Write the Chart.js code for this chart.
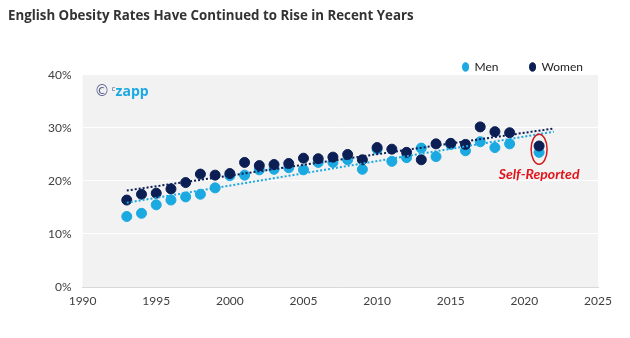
<!DOCTYPE html>
<html>
<head>
<meta charset="utf-8">
<script src="https://cdn.jsdelivr.net/npm/chart.js@4"></script>
<style>
  html, body { margin: 0; padding: 0; background: #fff; }
  #wrap { width: 630px; height: 338px; }
</style>
</head>
<body>
<div id="wrap"><canvas id="chart"></canvas></div>
<script>
// values (percent)
let years = [1993, 1994, 1995, 1996, 1997, 1998, 1999, 2000, 2001, 2002, 2003, 2004, 2005, 2006, 2007,
             2008, 2009, 2010, 2011, 2012, 2013, 2014, 2015, 2016, 2017, 2018, 2019, 2021];
let men =   [13.3, 13.9, 15.5, 16.4, 17.0, 17.5, 18.7, 21.0, 21.1, 22.1, 22.2, 22.5, 22.1, 23.5, 23.5,
             24.0, 22.2, 26.0, 23.7, 24.4, 26.2, 24.6, 26.9, 25.7, 27.4, 26.3, 27.0, 25.4];
let women = [16.4, 17.5, 17.7, 18.5, 19.7, 21.3, 21.1, 21.4, 23.5, 22.9, 23.1, 23.3, 24.3, 24.2, 24.5,
             25.0, 24.0, 26.3, 26.0, 25.4, 24.0, 27.0, 27.1, 26.9, 30.2, 29.3, 29.1, 26.6];
// trend line end points
let trendYears = [1993, 2022];
let menTrend = [15.9, 29.3];
let womenTrend = [18.2, 29.9];
let xTicks = [1990, 1995, 2000, 2005, 2010, 2015, 2020, 2025];
let yTicks = [0, 10, 20, 30, 40];
let selfReportedYear = 2021;

const MEN_COL = '#1ba9e1';
const WOMEN_COL = '#0c1f55';

function pts(xs, ys){
  return xs.map(function(x, i){ return {x: x, y: ys[i]}; });
}

const backdrop = {
  id: 'backdrop',
  afterLayout: function(chart){
    // nudge legend down / right so it sits just above the plot like the original
    let lg = chart.legend;
    if(lg){
      lg.top += 8; lg.bottom += 8;
      lg.left += 16; lg.right += 16;
    }
  },
  beforeDraw: function(chart){
    let ca = chart.chartArea, ctx = chart.ctx;
    ctx.save();
    ctx.fillStyle = '#f2f2f2';
    ctx.fillRect(ca.left, ca.top, ca.right - ca.left, ca.bottom - ca.top);
    ctx.restore();
  },
  afterDraw: function(chart){
    let ca = chart.chartArea, ctx = chart.ctx;
    ctx.save();
    // logo
    ctx.textBaseline = 'middle';
    ctx.fillStyle = '#5b5f8e';
    ctx.font = '15px "DejaVu Sans"';
    ctx.fillText('\u00A9', ca.left + 12, ca.top + 17);
    ctx.font = '8px "Open Sans"';
    ctx.fillText('c', ca.left + 29, ca.top + 14);
    ctx.font = 'bold 14px "Open Sans"';
    ctx.fillStyle = '#1ba9e1';
    ctx.fillText('zapp', ca.left + 33, ca.top + 17);

    // self-reported marker
    let xs = chart.scales.x, ys = chart.scales.y;
    let i = years.indexOf(selfReportedYear);
    let cx = xs.getPixelForValue(selfReportedYear);
    let cy = (ys.getPixelForValue(men[i]) + ys.getPixelForValue(women[i])) / 2;
    ctx.strokeStyle = '#d0161b';
    ctx.lineWidth = 1.5;
    ctx.beginPath();
    ctx.ellipse(cx, cy, 8, 15, 0, 0, Math.PI * 2);
    ctx.stroke();
    ctx.fillStyle = '#e0141a';
    ctx.font = 'italic bold 14px Lato';
    ctx.textAlign = 'center';
    ctx.fillText('Self-Reported', cx, cy + 25);
    ctx.restore();
  }
};

new Chart(document.getElementById('chart'), {
  type: 'scatter',
  data: {
    datasets: [
      {
        label: 'Men',
        data: pts(years, men),
        backgroundColor: MEN_COL,
        borderColor: MEN_COL,
        pointRadius: 5,
        order: 3
      },
      {
        label: 'Women',
        data: pts(years, women),
        backgroundColor: WOMEN_COL,
        borderColor: WOMEN_COL,
        pointRadius: 5,
        order: 2
      },
      {
        label: 'trendMen',
        type: 'line',
        data: pts(trendYears, menTrend),
        borderColor: MEN_COL,
        borderWidth: 2,
        borderDash: [2, 2],
        pointRadius: 0,
        fill: false,
        order: 1
      },
      {
        label: 'trendWomen',
        type: 'line',
        data: pts(trendYears, womenTrend),
        borderColor: WOMEN_COL,
        borderWidth: 2,
        borderDash: [2, 2],
        pointRadius: 0,
        fill: false,
        order: 0
      }
    ]
  },
  options: {
    responsive: true,
    maintainAspectRatio: false,
    animation: false,
    events: [],
    layout: { padding: { left: 8, right: 32, top: 8, bottom: 0 } },
    plugins: {
      title: {
        display: true,
        text: 'English Obesity Rates Have Continued to Rise in Recent Years',
        align: 'start',
        color: '#333333',
        font: { family: '"Open Sans"', size: 13.3, weight: 'bold' },
        padding: { top: 0, bottom: -2 }
      },
      legend: {
        position: 'top',
        align: 'end',
        labels: {
          usePointStyle: true,
          pointStyle: 'circle',
          boxWidth: 6,
          boxHeight: 6,
          pointStyleWidth: 6,
          padding: 31,
          color: '#222',
          font: { family: 'Lato', size: 12 },
          filter: function(item){ return item.text === 'Men' || item.text === 'Women'; },
          sort: function(a, b){ return a.datasetIndex - b.datasetIndex; }
        }
      },
      tooltip: { enabled: false }
    },
    scales: {
      x: {
        type: 'linear',
        min: 1990,
        max: 2025,
        afterBuildTicks: function(scale){ scale.ticks = xTicks.map(function(v){ return {value: v}; }); },
        afterFit: function(scale){ scale.height = 51; },
        grid: { display: false, drawTicks: false },
        border: { display: true, color: '#d9d9d9', width: 1 },
        ticks: {
          color: '#404040',
          padding: 7,
          font: { family: 'Lato', size: 12 },
          callback: function(v){ return String(v); }
        }
      },
      y: {
        min: 0,
        max: 40,
        afterBuildTicks: function(scale){ scale.ticks = yTicks.map(function(v){ return {value: v}; }); },
        afterFit: function(scale){ scale.width = 74.6; },
        grid: {
          color: function(c){ return c.tick.value === 0 ? '#d9d9d9' : '#ffffff'; },
          lineWidth: 1,
          drawTicks: false
        },
        border: { display: false },
        ticks: {
          color: '#404040',
          padding: 11,
          font: { family: 'Lato', size: 12 },
          callback: function(v){ return v + '%'; }
        }
      }
    }
  },
  plugins: [backdrop]
});
</script>
</body>
</html>
